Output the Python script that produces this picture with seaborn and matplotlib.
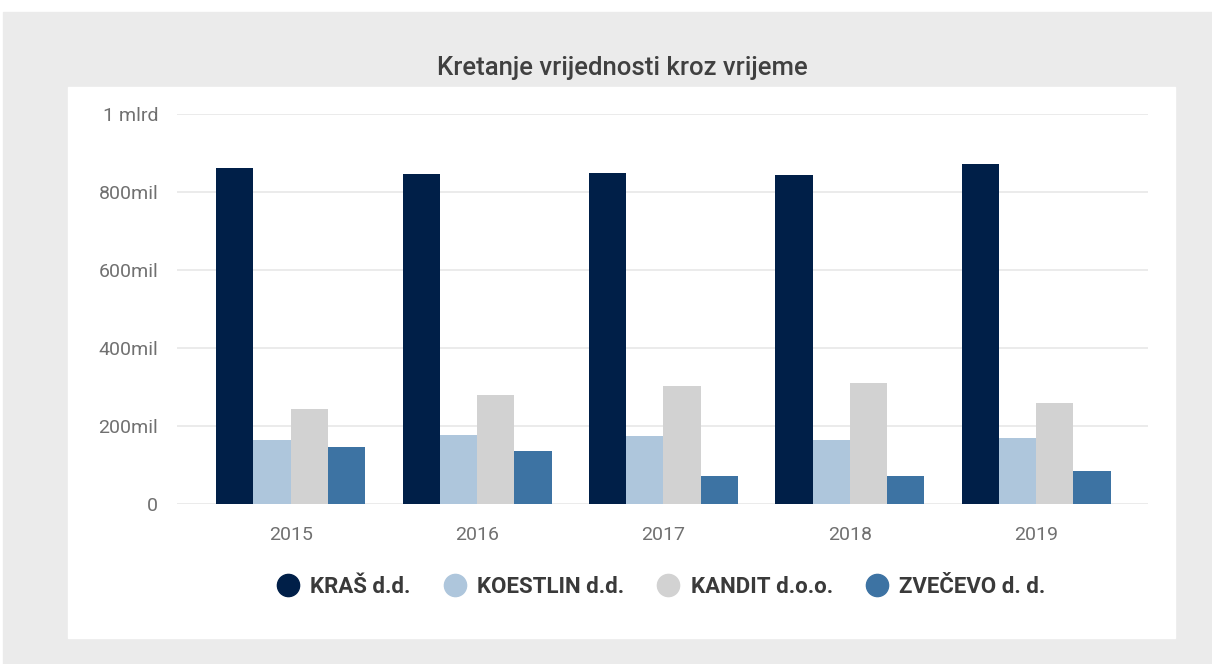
import pandas as pd
import matplotlib.pyplot as plt
import seaborn as sns
from matplotlib.lines import Line2D
from matplotlib.patches import Rectangle

years = ['2015', '2016', '2017', '2018', '2019']
companies = ['KRAŠ d.d.', 'KOESTLIN d.d.', 'KANDIT d.o.o.', 'ZVEČEVO d. d.']
kras = [862e6, 845e6, 849e6, 844e6, 872e6]
koestlin = [163e6, 178e6, 174e6, 164e6, 169e6]
kandit = [243e6, 279e6, 302e6, 310e6, 259e6]
zvecevo = [145e6, 136e6, 71e6, 71e6, 84e6]
colors = ['#001f48', '#aec6dc', '#d2d2d2', '#3d73a3']
y_ticks = [0, 200e6, 400e6, 600e6, 800e6, 1e9]
y_labels = ['0', '200mil', '400mil', '600mil', '800mil', '1 mlrd']

df = pd.DataFrame({'year': years * 4,
                   'company': [c for c in companies for _ in years],
                   'value': kras + koestlin + kandit + zvecevo})

sns.set_theme(style='white')
plt.rcParams['font.family'] = ['Roboto', 'DejaVu Sans']

W, H = 1212, 664
fig = plt.figure(figsize=(W / 100, H / 100), dpi=100, facecolor='white')

# gray card and white inner panel (pixel coords from top-left)
def px_rect(x0, y0, x1, y1, color):
    fig.patches.append(Rectangle((x0 / W, 1 - y1 / H), (x1 - x0) / W, (y1 - y0) / H,
                                 transform=fig.transFigure, color=color, zorder=-2))

px_rect(3, 12, W, H, '#ebebeb')
px_rect(68, 87, 1175, 638, 'white')

ax = fig.add_axes([177 / W, 1 - 504 / H, (1148 - 177) / W, (504 - 114) / H])
ax.set_facecolor('none')
sns.barplot(data=df, x='year', y='value', hue='company', palette=colors,
            linewidth=0, saturation=1, ax=ax, legend=False)

ax.set_ylim(0, 1e9)
ax.set_xlim(-0.61, 4.6)
ax.set_yticks(y_ticks)
ax.set_yticklabels(y_labels)
ax.yaxis.grid(True, color='#e8e8e8', linewidth=1.2)
ax.set_axisbelow(True)
for s in ax.spines.values():
    s.set_visible(False)
ax.tick_params(axis='y', length=0, pad=13.5, labelsize=14, labelcolor='#707070')
ax.tick_params(axis='x', length=0, pad=16, labelsize=14, labelcolor='#707070')
ax.set_xlabel('')
ax.set_ylabel('')

fig.text(622 / W, 1 - 68 / H, 'Kretanje vrijednosti kroz vrijeme', ha='center', va='center',
         fontsize=18.5, fontweight='medium', color='#404040')

handles = [Line2D([], [], marker='o', linestyle='', markersize=16, color=c) for c in colors]
leg = fig.legend(handles, companies, loc='center', bbox_to_anchor=(661 / W, 1 - 587 / H),
                 ncol=4, frameon=False, handlelength=1.0, handletextpad=0.5,
                 columnspacing=1.5, prop={'size': 16, 'weight': 'bold'})
for t in leg.get_texts():
    t.set_color('#3a3a3a')

fig.savefig('out.png', dpi=100, facecolor=fig.get_facecolor())
